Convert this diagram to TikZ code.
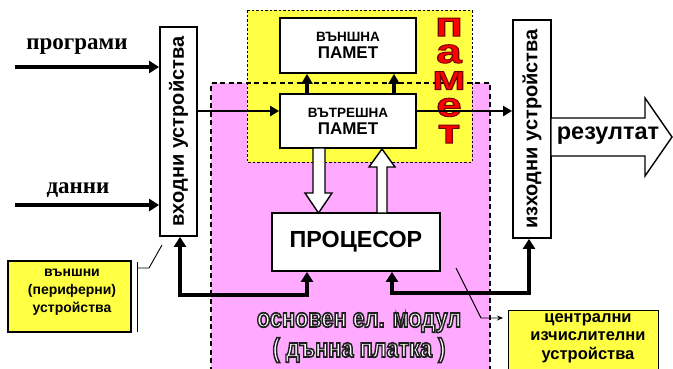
\documentclass[tikz,border=0pt]{standalone}
\usepackage{fontspec}
\setmainfont{Liberation Sans}
\newfontfamily\serifb{Liberation Serif}
\usetikzlibrary{arrows.meta,calc}
\definecolor{pinkbg}{HTML}{FFAAFF}
\definecolor{yellowbg}{HTML}{FFFF44}
\definecolor{letterred}{HTML}{FF0000}
\newcommand\stroked[3]{\special{pdf:literal direct #1 RG #2 w 2 Tr}#3\special{pdf:literal direct 0 Tr}}
\tikzset{
  box/.style={draw, line width=1.8pt, fill=white, inner sep=0pt, font=\bfseries},
  memtext/.style={align=center, font=\bfseries\fontsize{17}{17}\selectfont},
  notetext/.style={align=center, inner sep=0pt},
  notebox/.style={draw, line width=1.2pt, fill=yellowbg, inner sep=0pt},
  arr/.style={line width=3.6pt, -{Triangle[length=10pt,width=12pt]}},
  midarr/.style={line width=2.8pt, -{Triangle[length=9pt,width=10pt]}},
  smallarr/.style={line width=3.6pt, -{Triangle[length=10pt,width=11pt]}},
  busarr/.style={line width=4.2pt, {Triangle[length=10pt,width=12pt]}-{Triangle[length=10pt,width=12pt]}},
  hollow/.style={draw, line width=1.4pt, fill=white, line join=miter},
  leader/.style={line width=0.9pt},
  regionline/.style={line width=1.3pt, dash pattern=on 5pt off 3.5pt},
  yregionline/.style={line width=1pt, dash pattern=on 2.5pt off 2pt},
  lettr/.style={font=\bfseries\fontsize{34}{26.75}\selectfont, xscale=1.35, inner sep=0pt, align=center, text=letterred},
  outl/.style={font=\bfseries\fontsize{26.5}{26.5}\selectfont, xscale=0.82, inner sep=0pt, anchor=base, text=white},
}
\begin{document}
\begin{tikzpicture}[x=1pt,y=-1pt]
\clip (0,0) rectangle (673,368);
\useasboundingbox (0,0) rectangle (673,368);
% regions
\fill[pinkbg] (211,83) rectangle (490,380);
\fill[yellowbg] (247,10) rectangle (472,162);
\draw[regionline] (211,380) -- (211,83) -- (490,83) -- (490,380);
\draw[yregionline] (247,10) rectangle (472,162);
% red letters
\node[lettr, anchor=north] (pamet) at (449,18)
  {\stroked{0.45 0 0}{0.9}{п\\а\\м\\е\\т}};
% boxes
\node[box, minimum width=37pt, minimum height=209pt] (in) at (178.5,131.5)
  {\rotatebox{90}{\fontsize{20}{22}\selectfont входни устройства}};
\node[box, minimum width=38pt, minimum height=218pt] (out) at (532,129)
  {\rotatebox{90}{\fontsize{20}{22}\selectfont изходни устройства}};
\node[box, minimum width=136pt, minimum height=55pt] (ext) at (348,45.5) {};
\node[memtext] (exttxt) at (ext.center)
  {{\fontsize{13.5}{15}\selectfont ВЪНШНА}\\{ПАМЕТ}};
\node[box, minimum width=136pt, minimum height=54pt] (int) at (348,121) {};
\node[memtext] (inttxt) at (int.center)
  {{\fontsize{13.5}{15}\selectfont ВЪТРЕШНА}\\{ПАМЕТ}};
\node[box, minimum width=168pt, minimum height=58pt] (proc) at (356,242)
  {\fontsize{23.3}{25}\selectfont ПРОЦЕСОР};
% input labels
\node[font=\serifb\bfseries\fontsize{23}{24}\selectfont, inner sep=0pt] (prog) at (77,47) {програми};
\node[font=\serifb\bfseries\fontsize{23}{24}\selectfont, inner sep=0pt] (data) at (78,190) {данни};
\coordinate (progstart) at (15,67);
\coordinate (datastart) at (15,205);
\draw[arr] (progstart) -- (progstart -| in.west);
\draw[arr] (datastart) -- (datastart -| in.west);
% memory connections
\coordinate (lvl) at (0,111);
\draw[midarr] (lvl -| in.east) -- (lvl -| int.west);
\draw[midarr] (lvl -| int.east) -- (lvl -| out.west);
\draw[smallarr] (int.north -| 307,0) -- (ext.south -| 307,0);
\draw[smallarr] (int.north -| 394,0) -- (ext.south -| 394,0);
% hollow block arrows
\draw[hollow] (313,148) -- (325,148) -- (325,193) -- (332,193) -- (318.5,213) -- (305,193) -- (313,193) -- cycle;
\draw[hollow] (377,213) -- (387,213) -- (387,167) -- (395,167) -- (382,149) -- (369,167) -- (377,167) -- cycle;
% bus connectors
\coordinate (bl) at (307,295);
\coordinate (br) at (392,293);
\coordinate (br2) at (529,293);
\draw[busarr] (in.south -| 180,0) |- (bl) -- (bl |- proc.south);
\draw[busarr] (br |- proc.south) -- (br) -- (br2) -- (br2 |- out.south);
% result arrow
\draw[line width=1.4pt, fill=white, line join=miter] (551,118) -- (645,118) -- (645,98) -- (672,137) -- (645,176) -- (645,156) -- (551,156) -- cycle;
\node[font=\bfseries\fontsize{23.5}{25}\selectfont, inner sep=0pt] (res) at (608,136) {резултат};
% outlined text
\node[outl] (mod1) at (359,327) {\stroked{0.12 0.12 0.12}{1.7}{основен ел. модул}};
\node[outl] (mod2) at (359,357) {\stroked{0.12 0.12 0.12}{1.7}{( дънна платка )}};
% note boxes
\node[notebox, minimum width=123pt, minimum height=71pt] (periph) at (69.5,296.5) {};
\node[notetext, font=\bfseries\fontsize{14}{18}\selectfont] (periphtxt) at (72,292)
  {външни\\(периферни)\\устройства};
\node[notebox, minimum width=150pt, minimum height=70pt, anchor=north west] (cpu) at (508,310) {};
\node[notetext, font=\bfseries\fontsize{16.5}{18.5}\selectfont, anchor=north] (cputxt) at (588,313)
  {централни\\изчислителни\\устройства};
% leaders
\coordinate (lp1) at (137,262);
\coordinate (lp2) at (137,332);
\coordinate (lp3) at (137,268);
\coordinate (lp4) at (149,268);
\coordinate (lp5) at (162,245);
\draw[leader] (lp1) -- (lp2);
\draw[leader] (lp3) -- (lp4) -- (lp5);
\coordinate (rp1) at (456,268);
\coordinate (rp2) at (481,318);
\coordinate (rp3) at (503,318);
\draw[leader, -{Stealth[length=6pt,width=5pt]}] (rp1) -- (rp2) -- (rp3);
\end{tikzpicture}
\end{document}
